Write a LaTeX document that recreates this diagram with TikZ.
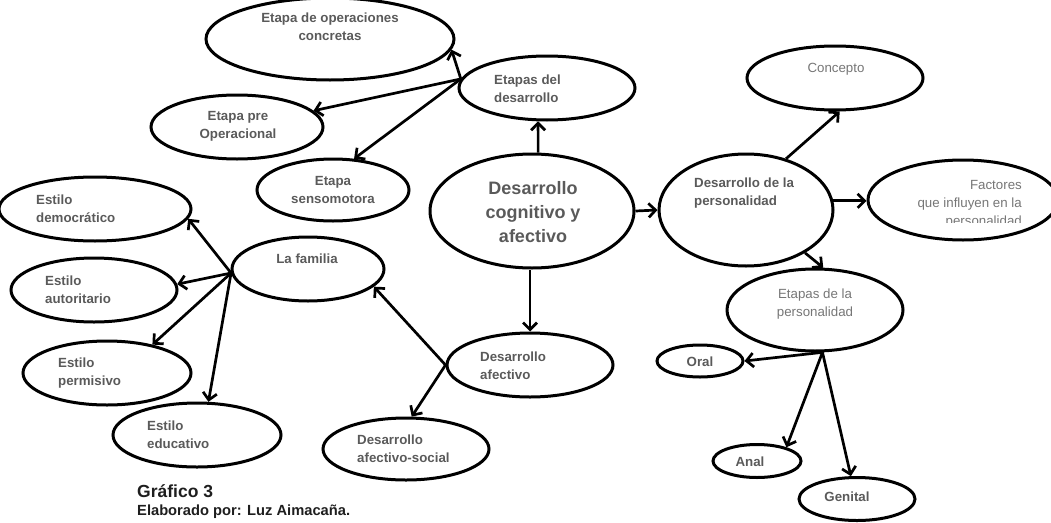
\documentclass[tikz,border=0pt]{standalone}
\usepackage{fontspec}
\setmainfont{Liberation Sans}
\usetikzlibrary{shapes.geometric,arrows.meta}
\definecolor{txt}{HTML}{5A5A5A}
\definecolor{txtl}{HTML}{767676}
\definecolor{capc}{HTML}{1E1E1E}
\begin{document}
\begin{tikzpicture}[x=1pt,y=-1pt,
  ell/.style={draw=black, line width=3pt, ellipse, inner sep=0pt},
  arr/.style={line width=2.7pt, -{Straight Barb[length=7pt,width=14pt]}},
  lbl/.style={inner sep=0pt, text=txt, font=\bfseries\fontsize{13.3}{18}\selectfont},
  lbll/.style={inner sep=0pt, text=txtl, font=\fontsize{13.3}{18}\selectfont},
  big/.style={inner sep=0pt, text=txt, font=\bfseries\fontsize{18}{24}\selectfont},
]
\useasboundingbox (0,0) rectangle (1051,522);

% ellipses
\node[ell, minimum width=248pt, minimum height=82pt] (ops) at (330,39) {};
\node[ell, minimum width=172pt, minimum height=64pt] (pre) at (237,127) {};
\node[ell, minimum width=152pt, minimum height=62pt] (sen) at (333,190) {};
\node[ell, minimum width=176pt, minimum height=64pt] (etd) at (547,88) {};
\node[ell, minimum width=204pt, minimum height=114pt] (cog) at (532,211) {};
\node[ell, minimum width=174pt, minimum height=112pt] (per) at (746,210) {};
\node[ell, minimum width=176pt, minimum height=64pt] (con) at (835,78) {};
\node[ell, minimum width=190pt, minimum height=80pt] (fac) at (963,200) {};
\node[ell, minimum width=192pt, minimum height=64pt] (dem) at (95,209) {};
\node[ell, minimum width=152pt, minimum height=64pt] (fam) at (308,269) {};
\node[ell, minimum width=166pt, minimum height=64pt] (aut) at (94,290) {};
\node[ell, minimum width=176pt, minimum height=82pt] (ped) at (815,310) {};
\node[ell, minimum width=168pt, minimum height=64pt] (perm) at (107,373) {};
\node[ell, minimum width=166pt, minimum height=64pt] (afe) at (530,365) {};
\node[ell, minimum width=86pt, minimum height=32pt] (oral) at (700,361) {};
\node[ell, minimum width=168pt, minimum height=64pt] (edu) at (197,435) {};
\node[ell, minimum width=166pt, minimum height=62pt] (soc) at (406,449) {};
\node[ell, minimum width=88pt, minimum height=33pt] (anal) at (757,461) {};
\node[ell, minimum width=116pt, minimum height=43pt] (gen) at (857,499) {};

% texts
\node[lbl, align=center] (tops) at (330,27) {Etapa de operaciones\\concretas};
\node[lbl, align=center] (tpre) at (238,126) {Etapa pre\\Operacional};
\node[lbl, align=center] (tsen) at (333,190) {Etapa\\sensomotora};
\node[lbl, align=left, anchor=west] (tetd) at (494,89) {Etapas del\\desarrollo};
\node[big, align=center] (tcog) at (533,212) {Desarrollo\\cognitivo y\\afectivo};
\node[lbl, align=left, anchor=west] (tper) at (694,193.5) {Desarrollo de la\\personalidad};
\node[lbll] (tcon) at (836,69) {Concepto};
\begin{scope}
\clip (850,150) rectangle (1051,222.5);
\node[lbll, align=right, anchor=east] (tfac) at (1022,204) {Factores\\que influyen en la\\personalidad};
\end{scope}
\node[lbl, align=left, anchor=west] (tdem) at (36,209) {Estilo\\democrático};
\node[lbl] (tfam) at (307,259) {La familia};
\node[lbl, align=left, anchor=west] (taut) at (45,289.5) {Estilo\\autoritario};
\node[lbll, align=center] (tped) at (815,304) {Etapas de la\\personalidad};
\node[lbl, align=left, anchor=west] (tperm) at (58,373) {Estilo\\permisivo};
\node[lbl, align=left, anchor=west] (tafe) at (480,365.5) {Desarrollo\\afectivo};
\node[lbl] (toral) at (700,362) {Oral};
\node[lbl, align=left, anchor=west] (tedu) at (147,434.5) {Estilo\\educativo};
\node[lbl, align=left, anchor=west] (tsoc) at (357,449) {Desarrollo\\afectivo-social};
\node[lbl] (tanal) at (750,462) {Anal};
\node[lbl] (tgen) at (847,497) {Genital};

% caption
\node[inner sep=0pt, anchor=base west, text=capc, font=\bfseries\fontsize{17.5}{20}\selectfont] (cap1) at (137,497) {Gráfico 3};
\node[inner sep=0pt, anchor=base west, text=capc, font=\bfseries\fontsize{14.7}{17}\selectfont] (cap2) at (137,515) {Elaborado por: Luz Aimacaña.};

% connectors
\draw[arr] (cog.84) -- (etd.-105);
\coordinate (f1) at (etd.174);
\draw[arr] (f1) -- (ops.-5);
\draw[arr] (f1) -- (pre.12);
\draw[arr] (f1) -- (sen.56);
\draw[arr] (cog.east) -- (per.west);
\draw[arr] (per.52) -- (con.-82);
\draw[arr] (per.6) -- (per.6 -| fac.west);
\draw[arr] (per.-36) -- (ped.79);
\draw[arr] (afe.north |- cog.south) -- (afe.north);
\coordinate (f2) at (afe.west);
\draw[arr] (f2) -- (fam.-15);
\draw[arr] (f2) -- (soc.80);
\coordinate (f3) at (fam.183);
\draw[arr] (f3) -- (dem.-6);
\draw[arr] (f3) -- (aut.4);
\draw[arr] (f3) -- (perm.32);
\draw[arr] (f3) -- (edu.71);
\coordinate (f4) at (ped.-80);
\draw[arr] (f4) -- (oral.east);
\draw[arr] (f4) -- (anal.25);
\draw[arr] (f4) -- (gen.105);
\end{tikzpicture}
\end{document}
